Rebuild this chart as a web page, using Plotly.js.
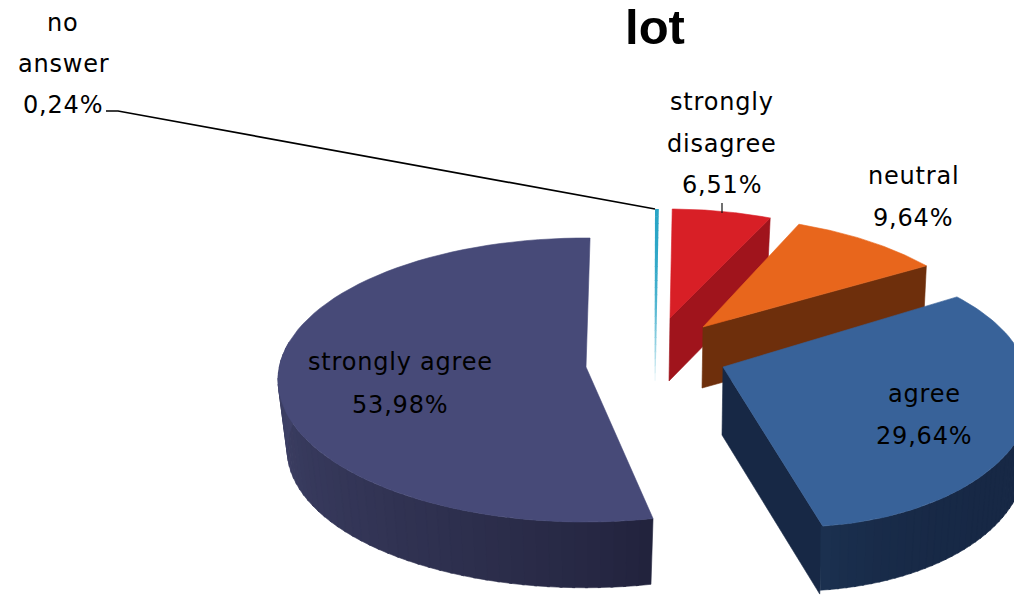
<!DOCTYPE html>
<html>
<head>
<meta charset="utf-8">
<script src="https://cdn.plot.ly/plotly-3.0.1.min.js"></script>
<style>html,body{margin:0;padding:0;background:#fff;overflow:hidden}#c{width:1014px;height:595px}
.annotation-text{letter-spacing:0.8px}</style>
</head>
<body>
<div id="c"></div>
<script>
// Data, in drawing order around the pie (clockwise from the top)
const categories = ["strongly disagree", "neutral", "agree", "strongly agree", "no answer"];
const values = [6.51, 9.64, 29.64, 53.98, 0.24];
const titleText = "lot";
const labelLines = [["strongly", "disagree"], ["neutral"], ["agree"], ["strongly agree"], ["no", "answer"]];

// Look of each exploded wedge in the tilted projection
const wedges = [
  {ax:670, ay:318, ex:670, ey:320, rx:254, ry:111, t0:0.5,   stretch:0.97,  dz:63, shrink:1,    top:"#d81f26", wallA:"#a0141c", wallB:"#a0141c", gamma:1,   cutEnd:true,  arc:null},
  {ax:703, ay:327, ex:703, ey:360, rx:296, ry:143.5, t0:18.9, stretch:0.867, dz:61, shrink:1,   top:"#e8661c", wallA:"#6e2f0c", wallB:"#6e2f0c", gamma:1,   cutEnd:true,  arc:null},
  {ax:723, ay:367, ex:795, ey:394, rx:237, ry:133, t0:43.1,  stretch:1.22,  dz:68, shrink:0.97, top:"#386299", wallA:"#172845", wallB:"#1b3150", gamma:6,   cutEnd:true,  arc:[70,999]},
  {ax:586, ay:367, ex:585, ey:380, rx:307, ry:142, t0:167.2, stretch:0.997, dz:70, shrink:0.97, top:"#474a78", wallA:"#22233d", wallB:"#3f4268", gamma:0.8, cutEnd:false, arc:[0,285]}
];
const sliver = {ex:655, ey:320, rx:254, ry:111, bottom:380, colour:[42,165,198]};

const rad = d => d * Math.PI / 180;
const hex = c => [1,3,5].map(i => parseInt(c.substr(i,2),16));
const mix = (a,b,f) => { const A=hex(a),B=hex(b); return "rgb("+A.map((v,i)=>Math.round(v+(B[i]-v)*f)).join(",")+")"; };

const traces = [];
function poly(xs, ys, colour) {
  traces.push({type:"scatter", mode:"lines", x:xs.concat(xs[0]), y:ys.concat(ys[0]), fill:"toself",
    fillcolor:colour, line:{color:colour, width:0.6}, hoverinfo:"skip", showlegend:false});
}
function rim(w, t, low) {
  const s = low ? w.shrink : 1, dz = low ? w.dz : 0;
  return [w.ex + w.rx*s*Math.sin(rad(t)), w.ey - w.ry*s*Math.cos(rad(t)) + dz];
}

values.slice(0, wedges.length).forEach((v, i) => {
  const w = wedges[i];
  const t1 = w.t0 + v * 3.6 * w.stretch;
  if (w.cutEnd) {
    const p = rim(w, t1, false);
    const q = [p[0] - 3, p[1] + w.dz];
    poly([w.ax, p[0], q[0], w.ax - 1], [w.ay, p[1], q[1], w.ay + w.dz], w.wallA);
  }
  if (w.arc) {
    const from = Math.max(w.t0, w.arc[0]), to = Math.min(t1, w.arc[1]);
    const n = 48;
    for (let k = 0; k < n; k++) {
      const a = from + (to-from)*k/n, b = from + (to-from)*(k+1.2)/n;
      const p1 = rim(w,a,false), p2 = rim(w,b,false), p3 = rim(w,b,true), p4 = rim(w,a,true);
      poly([p1[0],p2[0],p3[0],p4[0]], [p1[1],p2[1],p3[1],p4[1]], mix(w.wallA, w.wallB, Math.pow(k/n, w.gamma)));
    }
  }
  const xs = [w.ax], ys = [w.ay];
  for (let k = 0; k <= 80; k++) {
    const p = rim(w, w.t0 + (t1-w.t0)*k/80, false);
    xs.push(p[0]); ys.push(p[1]);
  }
  poly(xs, ys, w.top);
});

// hair-thin "no answer" wedge, fading out downward
(function () {
  const v = values[4], t = v * 3.6;
  const top = [sliver.ex, sliver.ey - sliver.ry], width = sliver.rx * Math.sin(rad(t));
  const n = 24, span = sliver.bottom - top[1];
  for (let k = 0; k < n; k++) {
    const f0 = k/n, f1 = (k+1.1)/n;
    const y0 = top[1] + span*f0, y1 = top[1] + span*f1;
    const x0 = top[0] - 0.5*f0, x1 = top[0] - 0.5*f1;
    const w0 = width*(1-0.7*f0), w1 = width*(1-0.7*f1);
    const fade = Math.pow(f0, 2.6);
    const col = "rgb(" + sliver.colour.map(c => Math.round(c + (255-c)*fade)).join(",") + ")";
    traces.push({type:"scatter", mode:"lines", x:[x0,x0+w0,x1+w1,x1,x0], y:[y0,y0,y1,y1,y0], fill:"toself",
      fillcolor:col, line:{width:0}, hoverinfo:"skip", showlegend:false});
  }
})();

// leader lines
traces.push({type:"scatter", mode:"lines", x:[106,118,655], y:[111,111,209], line:{color:"#000",width:1.7}, hoverinfo:"skip", showlegend:false});
traces.push({type:"scatter", mode:"lines", x:[722,722], y:[203,213], line:{color:"#111",width:1.2}, hoverinfo:"skip", showlegend:false});

// labels: centre of the text block and of each line
const labelPos = [
  {x:722, ys:[102,144,185]},
  {x:913, ys:[176,218]},
  {x:924, ys:[394,436]},
  {x:400, ys:[362,405]},
  {x:63,  ys:[23,64,105]}
];
const annotations = [];
categories.forEach((_, i) => {
  const lines = labelLines[i].concat(values[i].toFixed(2).replace(".", ",") + "%");
  lines.forEach((t, k) => annotations.push({
    x: labelPos[i].x, y: labelPos[i].ys[k], xref:"x", yref:"y", text:t, showarrow:false,
    xanchor:"center", yanchor:"middle", font:{family:"DejaVu Sans", size:24, color:"#000"}
  }));
});

const layout = {
  width:1014, height:595, margin:{l:0,r:0,t:0,b:0}, paper_bgcolor:"#fff", plot_bgcolor:"#fff", showlegend:false,
  title:{text:titleText, x:655/1014, xanchor:"center", y:1-27/595, yanchor:"middle", font:{family:"Liberation Sans", size:49, weight:700, color:"#000"}},
  xaxis:{range:[0,1014], visible:false, fixedrange:true},
  yaxis:{range:[595,0], visible:false, fixedrange:true},
  annotations
};
Plotly.newPlot("c", traces, layout, {displayModeBar:false, staticPlot:true});
</script>
</body>
</html>
